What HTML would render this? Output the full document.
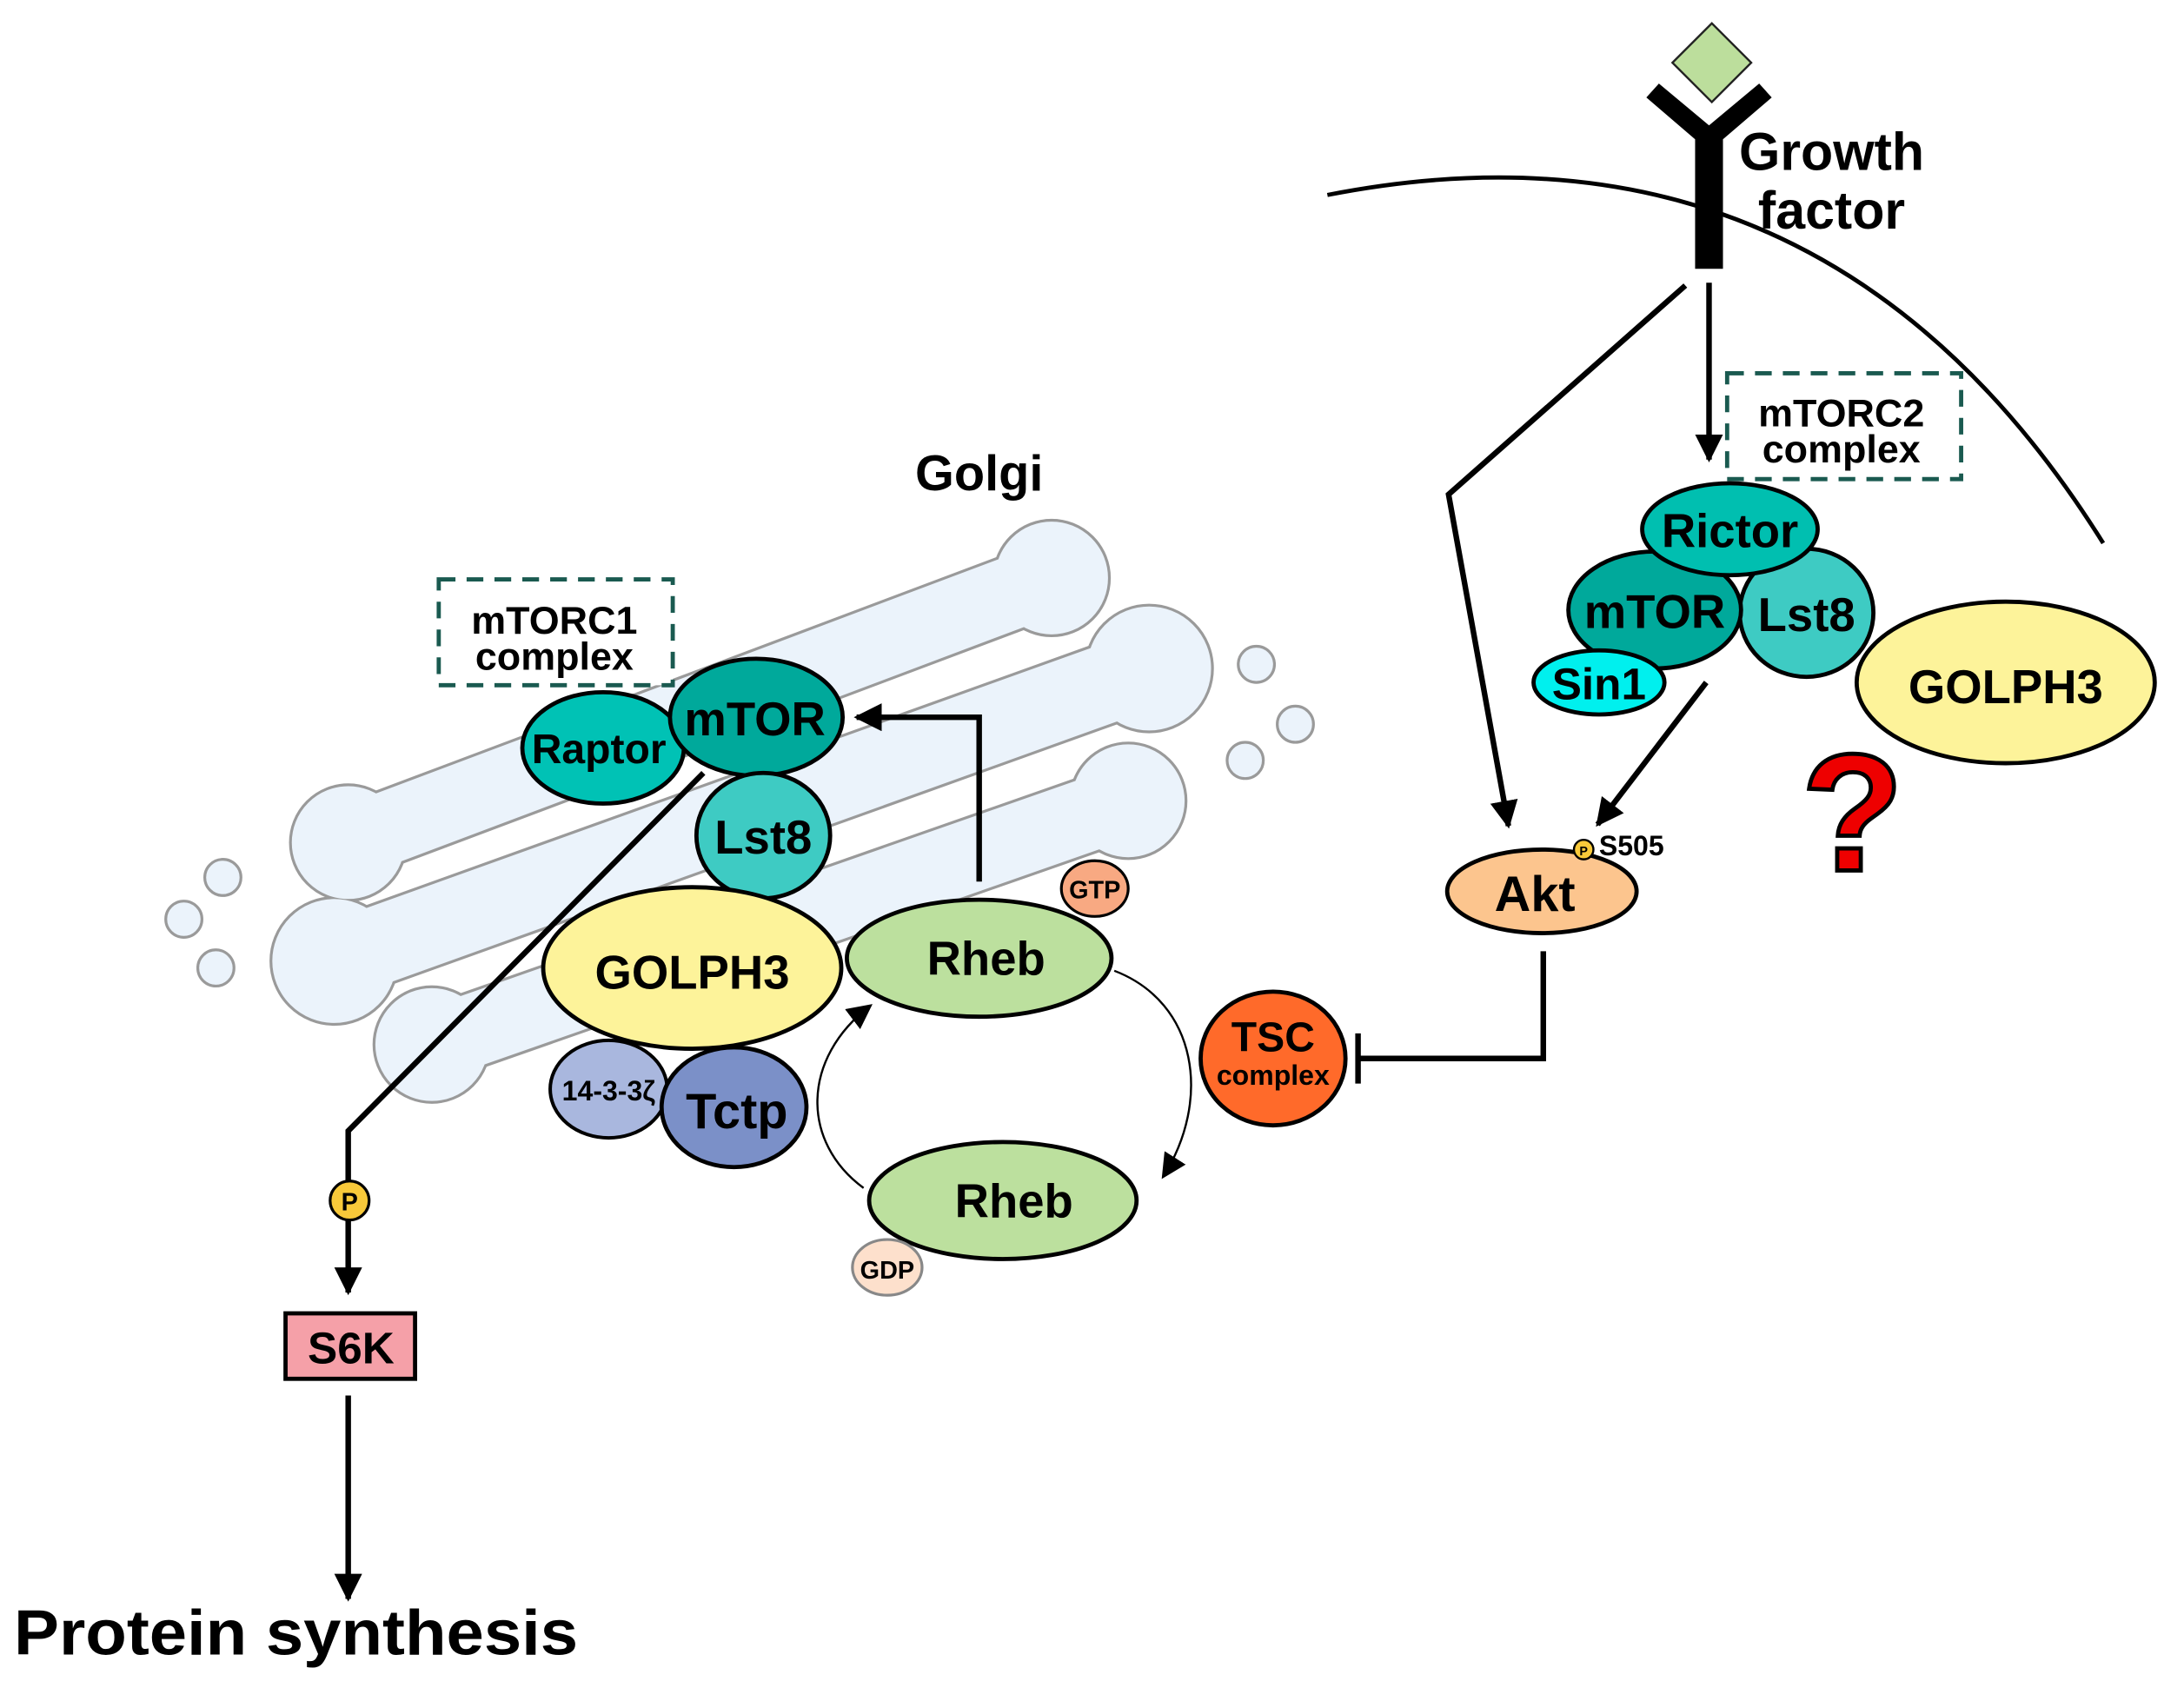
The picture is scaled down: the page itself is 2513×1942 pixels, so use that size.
<!DOCTYPE html>
<html><head><meta charset="utf-8"><style>
html,body{margin:0;padding:0;background:#fff}
svg{display:block}
text{font-family:"Liberation Sans",Arial,sans-serif;font-weight:bold;fill:#000}
</style></head><body>
<svg width="2513" height="1942" viewBox="0 0 1568 1212" preserveAspectRatio="none" xmlns="http://www.w3.org/2000/svg">
<defs>
<marker id="ah" viewBox="0 0 10 10" refX="9" refY="5" markerWidth="5" markerHeight="5" orient="auto"><path d="M0,0 L10,5 L0,10 z" fill="#000"/></marker>
<marker id="ahs" viewBox="0 0 10 10" refX="9" refY="5" markerWidth="12" markerHeight="12" orient="auto"><path d="M0,0 L10,5 L0,10 z" fill="#000"/></marker>
</defs>
<g>
<g stroke="#9a9a9a" fill="#9a9a9a">
<line x1="250" y1="605" x2="755" y2="415" stroke-width="56" stroke-linecap="round"/>
<circle cx="250" cy="605" r="42"/><circle cx="755" cy="415" r="42"/>
<line x1="240" y1="690" x2="825" y2="480" stroke-width="60" stroke-linecap="round"/>
<circle cx="240" cy="690" r="46"/><circle cx="825" cy="480" r="46"/>
<line x1="310" y1="750" x2="810" y2="575" stroke-width="56" stroke-linecap="round"/>
<circle cx="310" cy="750" r="42"/><circle cx="810" cy="575" r="42"/>
</g>
<g stroke="#ebf3fb" fill="#ebf3fb">
<line x1="250" y1="605" x2="755" y2="415" stroke-width="52" stroke-linecap="round"/>
<circle cx="250" cy="605" r="40"/><circle cx="755" cy="415" r="40"/>
<line x1="240" y1="690" x2="825" y2="480" stroke-width="56" stroke-linecap="round"/>
<circle cx="240" cy="690" r="44"/><circle cx="825" cy="480" r="44"/>
<line x1="310" y1="750" x2="810" y2="575" stroke-width="52" stroke-linecap="round"/>
<circle cx="310" cy="750" r="40"/><circle cx="810" cy="575" r="40"/>
</g>
<g fill="#ebf3fb" stroke="#9a9a9a" stroke-width="2">
<circle cx="160" cy="630" r="13"/><circle cx="132" cy="660" r="13"/><circle cx="155" cy="695" r="13"/>
<circle cx="902" cy="477" r="13"/><circle cx="930" cy="520" r="13"/><circle cx="894" cy="546" r="13"/>
</g>
</g>
<text x="703" y="352" font-size="36" text-anchor="middle">Golgi</text>
<path d="M953,140 Q1310,70 1510,390" fill="none" stroke="#000" stroke-width="3"/>
<path d="M1191,60 L1227,90 L1263,60 L1272,70 L1237,100 L1237,193 L1217,193 L1217,100 L1182,70 z" fill="#000"/>
<rect x="1209" y="25" width="40" height="40" transform="rotate(45 1229 45)" fill="#bcde9c" stroke="#222" stroke-width="1.5"/>
<text x="1315" y="122" font-size="38" text-anchor="middle">Growth</text>
<text x="1315" y="164" font-size="38" text-anchor="middle">factor</text>
<polyline points="1210,205 1040,355 1083,593" fill="none" stroke="#000" stroke-width="4" marker-end="url(#ah)"/>
<line x1="1227" y1="203" x2="1227" y2="330" stroke="#000" stroke-width="4" marker-end="url(#ah)"/>
<rect x="1240" y="268" width="168" height="76" fill="none" stroke="#1a5a50" stroke-width="3" stroke-dasharray="12,8"/>
<text x="1322" y="306" font-size="28" text-anchor="middle">mTORC2</text>
<text x="1322" y="332" font-size="28" text-anchor="middle">complex</text>
<ellipse cx="1297" cy="440" rx="48" ry="46" fill="#3ecbc3" stroke="#000" stroke-width="3"/>
<ellipse cx="1188" cy="438" rx="62" ry="42" fill="#00a99b" stroke="#000" stroke-width="3"/>
<ellipse cx="1242" cy="380" rx="63" ry="33" fill="#00bfb0" stroke="#000" stroke-width="3"/>
<ellipse cx="1148" cy="490" rx="47" ry="23" fill="#00f0ee" stroke="#000" stroke-width="3"/>
<text x="1242" y="393" font-size="34" text-anchor="middle">Rictor</text>
<text x="1188" y="451" font-size="34" text-anchor="middle">mTOR</text>
<text x="1297" y="453" font-size="34" text-anchor="middle">Lst8</text>
<text x="1148" y="502" font-size="32" text-anchor="middle">Sin1</text>
<ellipse cx="1440" cy="490" rx="107" ry="58" fill="#fdf39a" stroke="#000" stroke-width="3"/>
<text x="1440" y="505" font-size="34" text-anchor="middle">GOLPH3</text>
<text x="1330" y="625" font-size="120" text-anchor="middle" style="fill:#ee0000;stroke:#000;stroke-width:3">?</text>
<line x1="1225" y1="490" x2="1147" y2="592" stroke="#000" stroke-width="4" marker-end="url(#ah)"/>
<ellipse cx="1107" cy="640" rx="68" ry="30" fill="#fcc58e" stroke="#000" stroke-width="3"/>
<text x="1102" y="654" font-size="36" text-anchor="middle">Akt</text>
<circle cx="1137" cy="610" r="7" fill="#f8c93a" stroke="#000" stroke-width="1.5"/>
<text x="1137" y="614" font-size="9" text-anchor="middle">P</text>
<text x="1148" y="614" font-size="20">S505</text>
<polyline points="1108,683 1108,760 975,760" fill="none" stroke="#000" stroke-width="4"/>
<line x1="975" y1="742" x2="975" y2="778" stroke="#000" stroke-width="4"/>
<ellipse cx="914" cy="760" rx="52" ry="48" fill="#ff6a2a" stroke="#000" stroke-width="3"/>
<text x="914" y="755" font-size="30" text-anchor="middle">TSC</text>
<text x="914" y="779" font-size="20" text-anchor="middle">complex</text>
<path d="M800,697 C860,720 870,790 835,845" fill="none" stroke="#000" stroke-width="1.5" marker-end="url(#ahs)"/>
<path d="M620,853 C575,820 575,760 625,722" fill="none" stroke="#000" stroke-width="1.5" marker-end="url(#ahs)"/>
<ellipse cx="703" cy="688" rx="95" ry="42" fill="#bce09e" stroke="#000" stroke-width="3"/>
<text x="708" y="700" font-size="34" text-anchor="middle">Rheb</text>
<ellipse cx="786" cy="638" rx="24" ry="20" fill="#f8a982" stroke="#000" stroke-width="2"/>
<text x="786" y="645" font-size="18" text-anchor="middle">GTP</text>
<ellipse cx="720" cy="862" rx="96" ry="42" fill="#bce09e" stroke="#000" stroke-width="3"/>
<text x="728" y="874" font-size="34" text-anchor="middle">Rheb</text>
<ellipse cx="637" cy="910" rx="25" ry="20" fill="#fde0cc" stroke="#888" stroke-width="2"/>
<text x="637" y="918" font-size="18" text-anchor="middle">GDP</text>
<polyline points="703,633 703,515 615,515" fill="none" stroke="#000" stroke-width="4" marker-end="url(#ah)"/>
<rect x="315" y="416" width="168" height="76" fill="#fff" stroke="#1a5a50" stroke-width="3" stroke-dasharray="12,8"/>
<text x="398" y="455" font-size="28" text-anchor="middle">mTORC1</text>
<text x="398" y="481" font-size="28" text-anchor="middle">complex</text>
<ellipse cx="433" cy="537" rx="58" ry="40" fill="#00c2b5" stroke="#000" stroke-width="3"/>
<ellipse cx="543" cy="515" rx="62" ry="42" fill="#00a99b" stroke="#000" stroke-width="3"/>
<ellipse cx="548" cy="600" rx="48" ry="45" fill="#3ecbc3" stroke="#000" stroke-width="3"/>
<text x="430" y="548" font-size="30" text-anchor="middle">Raptor</text>
<text x="542" y="528" font-size="34" text-anchor="middle">mTOR</text>
<text x="548" y="613" font-size="34" text-anchor="middle">Lst8</text>
<ellipse cx="497" cy="695" rx="107" ry="58" fill="#fdf39a" stroke="#000" stroke-width="3"/>
<text x="497" y="710" font-size="34" text-anchor="middle">GOLPH3</text>
<ellipse cx="437" cy="782" rx="42" ry="35" fill="#a9b7de" stroke="#000" stroke-width="2.5"/>
<text x="437" y="790" font-size="20" text-anchor="middle">14-3-3ζ</text>
<ellipse cx="527" cy="795" rx="52" ry="43" fill="#7b90c8" stroke="#000" stroke-width="3"/>
<text x="529" y="810" font-size="36" text-anchor="middle">Tctp</text>
<polyline points="505,555 250,812 250,928" fill="none" stroke="#000" stroke-width="4" marker-end="url(#ah)"/>
<circle cx="251" cy="862" r="14" fill="#f8c93a" stroke="#000" stroke-width="2"/>
<text x="251" y="869" font-size="18" text-anchor="middle">P</text>
<rect x="205" y="943" width="93" height="47" fill="#f5a0a8" stroke="#000" stroke-width="3"/>
<text x="252" y="979" font-size="32" text-anchor="middle">S6K</text>
<line x1="250" y1="1002" x2="250" y2="1148" stroke="#000" stroke-width="4" marker-end="url(#ah)"/>
<text x="10" y="1188" font-size="46" textLength="405" lengthAdjust="spacingAndGlyphs">Protein synthesis</text>
</svg>
</body></html>
